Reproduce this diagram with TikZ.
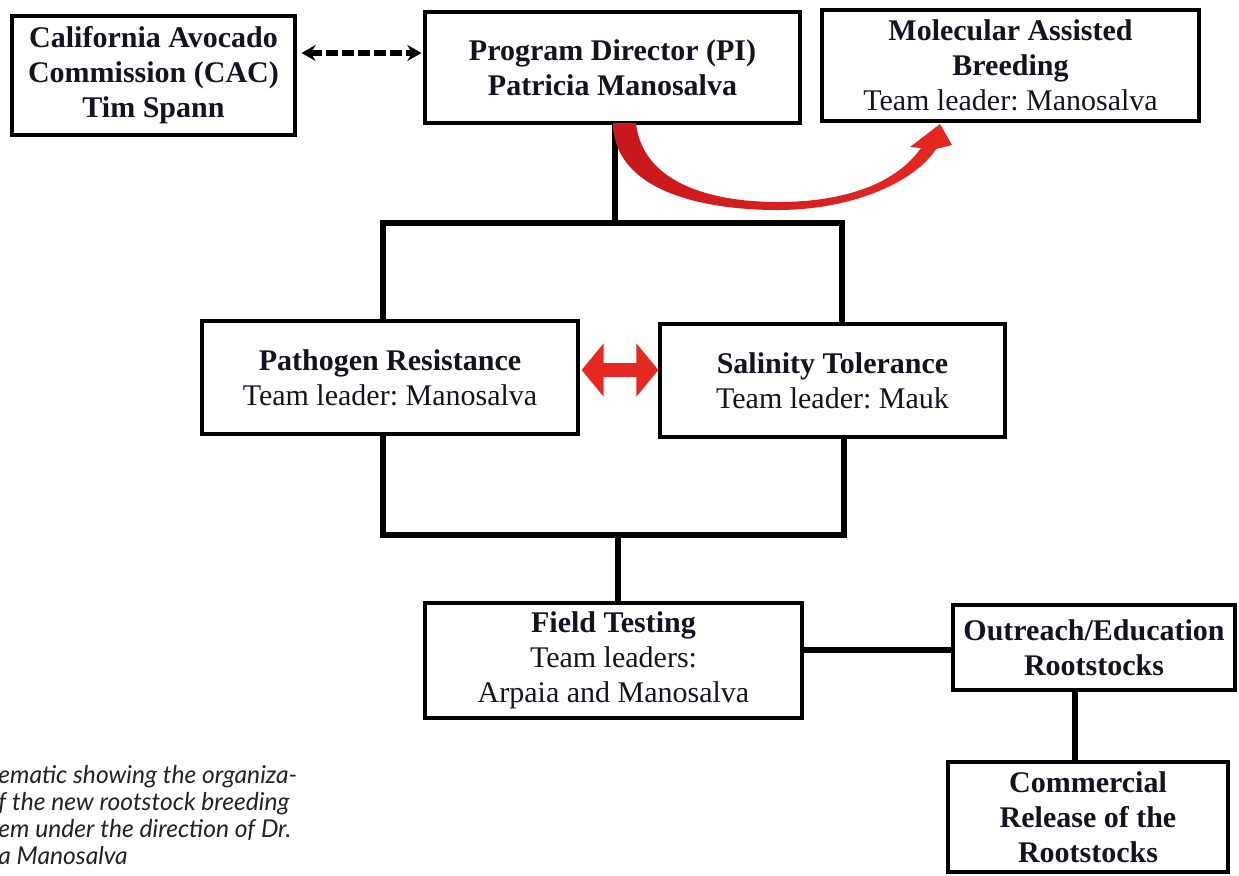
\documentclass[tikz,border=0pt]{standalone}
\usepackage{fontspec}
\setmainfont{Liberation Serif}
\newfontfamily\capfont{Lato}
\usetikzlibrary{arrows.meta,shadows}
\definecolor{txt}{RGB}{20,20,32}
\definecolor{arrred}{RGB}{230,40,34}
\definecolor{arrdark}{RGB}{200,24,28}
\definecolor{captxt}{RGB}{35,35,35}
\begin{document}
\frenchspacing
\begin{tikzpicture}[x=0.5pt,y=-0.5pt,
  box/.style={draw=black, line width=1.6pt, fill=white, align=center, inner sep=0pt,
    text=txt, font=\fontsize{15}{17.5}\selectfont,
    drop shadow={opacity=0.22, shadow xshift=1pt, shadow yshift=-1pt}},
  conn/.style={line width=2.6pt, black},
  captext/.style={anchor=base west, inner sep=0pt, text=captxt,
    font=\capfont\itshape\fontsize{12.3}{14}\selectfont}]
\fill[white] (0,0) rectangle (1239,875);
\useasboundingbox (0,0) rectangle (1239,875);

% boxes
\node[box, minimum width=141.5pt, minimum height=59.5pt] (cac) at (153.5,75.5)
  {\bfseries California Avocado\\\bfseries Commission (CAC)\\\bfseries Tim Spann};
\node[box, minimum width=187.5pt, minimum height=55.5pt] (pi) at (612.5,67.5)
  {\bfseries Program Director (PI)\\\bfseries Patricia Manosalva};
\node[box, minimum width=188.5pt, minimum height=55.5pt] (mab) at (1010.5,65.5)
  {\bfseries Molecular Assisted\\\bfseries Breeding\\Team leader: Manosalva};
\node[box, minimum width=188pt, minimum height=56.5pt] (path) at (390,377.5)
  {\bfseries Pathogen Resistance\\Team leader: Manosalva};
\node[box, minimum width=172.5pt, minimum height=56.5pt] (sal) at (832.5,380.5)
  {\bfseries Salinity Tolerance\\Team leader: Mauk};
\node[box, minimum width=188.5pt, minimum height=57.5pt] (field) at (613.5,660.5)
  {\bfseries Field Testing\\Team leaders:\\Arpaia and Manosalva};
\node[box, minimum width=141pt, minimum height=42.5pt] (out) at (1094,647.5)
  {\bfseries Outreach/Education\\\bfseries Rootstocks};
\node[box, minimum width=140pt, minimum height=55pt] (com) at (1088,817)
  {\bfseries Commercial\\\bfseries Release of the\\\bfseries Rootstocks};

% junction coordinates
\coordinate (t1) at (615,223);
\coordinate (tl) at (383,223);
\coordinate (tr) at (842,223);
\coordinate (bl) at (383,535);
\coordinate (br) at (844,535);
\coordinate (b1) at (618,535);
\coordinate (lf) at (0,650);
\coordinate (vx) at (1075,0);
\coordinate (da) at (0,53);
\coordinate (ra) at (0,370);

% tree connectors
\draw[conn] (pi.south -| t1) -- (t1);
\draw[conn] (path.north -| tl) -- (tl) -- (tr) -- (sal.north -| tr);
\draw[conn] (path.south -| bl) -- (bl) -- (br) -- (sal.south -| br);
\draw[conn] (b1) -- (field.north -| b1);
\draw[conn] (field.east |- lf) -- (out.west |- lf);
\draw[conn] (out.south -| vx) -- (com.north -| vx);

% dashed double arrow
\draw[line width=2.6pt, dash pattern=on 6pt off 2pt, shorten <=2.5pt, shorten >=1pt,
  {Stealth[length=7pt,width=8pt]}-{Stealth[length=7pt,width=8pt]}]
  (cac.east |- da) -- (pi.west |- da);

% red double arrow
\draw[arrred, line width=7pt, shorten <=1pt,
  {Triangle[length=11pt,width=26pt]}-{Triangle[length=11pt,width=26pt]}]
  (path.east |- ra) -- (sal.west |- ra);

% red curved arrow
\shade[left color=arrdark, right color=arrred, draw=none]
  (613,123) .. controls (614,190) and (700,210) .. (778,210)
  .. controls (852,210) and (915,182) .. (936,149)
  -- (952,145) -- (940,124) -- (910,147) -- (921,148)
  .. controls (897,182) and (848,202) .. (778,202)
  .. controls (705,202) and (642,180) .. (636,123) -- cycle;

% caption (cut at left edge)
\node[captext] (cap1) at (-2,783) {ematic showing the organiza-};
\node[captext] (cap2) at (-2,810) {f the new rootstock breeding};
\node[captext] (cap3) at (-2,837) {em under the direction of Dr.};
\node[captext] (cap4) at (-2,864) {a Manosalva};
\end{tikzpicture}
\end{document}
